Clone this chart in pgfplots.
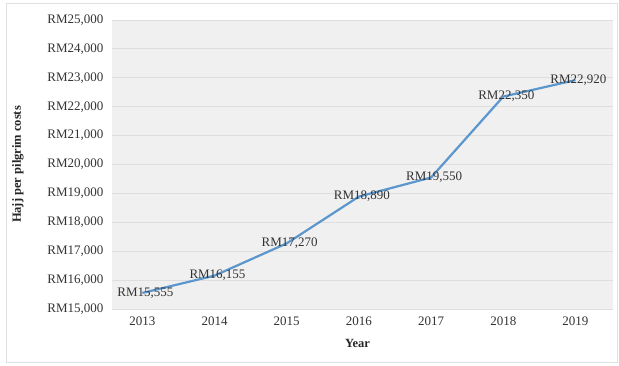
\documentclass[border=0pt]{standalone}
\usepackage{pgfplots}
\pgfplotsset{compat=1.18}
\usepackage{fontspec}
\setmainfont{Liberation Serif}
\definecolor{lineblue}{RGB}{91,150,205}
\begin{document}
\begin{tikzpicture}[x=1pt,y=1pt]
\path[fill=white] (0,0) rectangle (619,366);
\draw[black!12, line width=1pt] (6,3) rectangle (617,362);
\begin{axis}[
  at={(112pt,57pt)}, anchor=south west,
  scale only axis, width=501pt, height=289pt,
  xmin=-0.42, xmax=6.52, ymin=15000, ymax=25000,
  xtick={0,...,6},
  xticklabels={2013,2014,2015,2016,2017,2018,2019},
  ytick={15000,16000,...,25000},
  /pgf/number format/.cd, 1000 sep={,}, assume math mode=true, /pgfplots/.cd,
  yticklabel={RM\pgfmathprintnumber{\tick}},
  scaled y ticks=false,
  tick style={draw=none},
  axis line style={draw=none},
  axis background/.style={fill=black!6},
  ymajorgrids, major grid style={black!13, line width=0.8pt},
  ticklabel style={font=\fontsize{13}{15}\selectfont, text=black!80},
  yticklabel style={xshift=-5pt},
  xticklabel style={yshift=-4pt},
  xlabel={\textbf{Year}}, ylabel={\textbf{Hajj per pilgrim costs}},
  label style={font=\fontsize{12.5}{14}\selectfont, text=black!85},
  xlabel style={at={(axis description cs:0.49,-0.121)}, anchor=center},
  ylabel style={at={(axis description cs:-0.188,0.5)}, anchor=center, rotate=0},
  clip=false,
]
\addplot[color=lineblue, line width=2.2pt, line join=round,
  nodes near coords={RM\pgfmathprintnumber{\pgfplotspointmeta}},
  point meta=y,
  every node near coord/.style={anchor=center, font=\fontsize{13}{15}\selectfont, text=black!80, xshift=3pt},
] coordinates {
  (0,15555) (1,16155) (2,17270) (3,18890) (4,19550) (5,22350) (6,22920)
};
\end{axis}
\end{tikzpicture}
\end{document}
